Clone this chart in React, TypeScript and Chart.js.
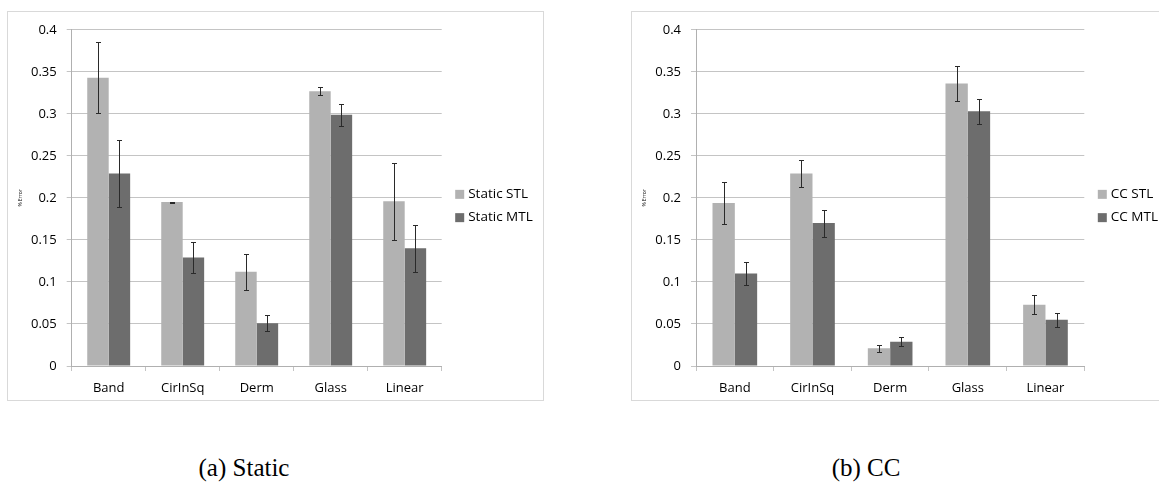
import React, { useEffect, useRef } from 'react';
import { Chart, registerables } from 'chart.js';

Chart.register(...registerables);

const categories = ['Band', 'CirInSq', 'Derm', 'Glass', 'Linear'];

const staticSTL = [0.343, 0.195, 0.112, 0.327, 0.196];
const staticSTLErr = [0.042, 0.0005, 0.021, 0.0047, 0.046];
const staticMTL = [0.229, 0.129, 0.051, 0.299, 0.14];
const staticMTLErr = [0.04, 0.018, 0.0095, 0.0133, 0.028];

const ccSTL = [0.194, 0.229, 0.021, 0.336, 0.073];
const ccSTLErr = [0.025, 0.016, 0.004, 0.021, 0.0117];
const ccMTL = [0.11, 0.17, 0.029, 0.303, 0.055];
const ccMTLErr = [0.014, 0.016, 0.005, 0.0145, 0.0082];

const yTickLabels = ['0', '0.05', '0.1', '0.15', '0.2', '0.25', '0.3', '0.35', '0.4'];

const FONT = "'Open Sans', sans-serif";
const LIGHT = '#b2b2b2';
const DARK = '#6d6d6d';
const GRID = '#c4c4c4';
const AXIS = '#b0b0b0';

function errorPlugin(errs: number[][]) {
  return {
    id: 'errorBars',
    afterDatasetsDraw(chart: any) {
      const ctx = chart.ctx;
      const y = chart.scales.y;
      ctx.save();
      ctx.strokeStyle = '#2a2a2a';
      ctx.lineWidth = 1;
      chart.data.datasets.forEach((ds: any, di: number) => {
        const meta = chart.getDatasetMeta(di);
        meta.data.forEach((bar: any, i: number) => {
          const v = ds.data[i];
          const e = errs[di][i];
          const x = Math.round(bar.x) + 0.5;
          const t = Math.round(y.getPixelForValue(v + e)) + 0.5;
          const b = Math.round(y.getPixelForValue(v - e)) + 0.5;
          ctx.beginPath();
          ctx.moveTo(x, t);
          ctx.lineTo(x, b);
          ctx.moveTo(x - 2.5, t);
          ctx.lineTo(x + 2.5, t);
          ctx.moveTo(x - 2.5, b);
          ctx.lineTo(x + 2.5, b);
          ctx.stroke();
        });
      });
      ctx.restore();
    },
  };
}

function sideLegendPlugin(offset: number) {
  return {
    id: 'sideLegend',
    afterDraw(chart: any) {
      const { ctx, chartArea, height } = chart;
      const x0 = chartArea.right + offset;
      const step = 23.3;
      const n = chart.data.datasets.length;
      const cy = height / 2;
      ctx.save();
      chart.data.datasets.forEach((ds: any, i: number) => {
        const yc = cy + (i - (n - 1) / 2) * step;
        ctx.fillStyle = ds.backgroundColor;
        ctx.fillRect(x0, yc - 4.5, 9, 9);
        ctx.fillStyle = '#000';
        ctx.font = `13.5px ${FONT}`;
        ctx.textBaseline = 'middle';
        ctx.textAlign = 'left';
        ctx.fillText(ds.label, x0 + 13, yc);
      });
      ctx.restore();
    },
  };
}

type PanelProps = {
  left: number;
  boxWidth: number;
  canvasWidth: number;
  yWidth: number;
  plotRight: number;
  labels: string[];
  stl: number[];
  stlErr: number[];
  mtl: number[];
  mtlErr: number[];
  stlLabel: string;
  mtlLabel: string;
  catPct: number;
};

function Panel(p: PanelProps) {
  const ref = useRef<HTMLCanvasElement>(null);
  useEffect(() => {
    if (!ref.current) return;
    const canvasHeight = 388;
    const chart = new Chart(ref.current, {
      type: 'bar',
      data: {
        labels: p.labels,
        datasets: [
          {
            label: p.stlLabel,
            data: p.stl,
            backgroundColor: LIGHT,
            borderWidth: 0,
            categoryPercentage: p.catPct,
            barPercentage: 1,
          },
          {
            label: p.mtlLabel,
            data: p.mtl,
            backgroundColor: DARK,
            borderWidth: 0,
            categoryPercentage: p.catPct,
            barPercentage: 1,
          },
        ],
      },
      options: {
        responsive: false,
        animation: false,
        layout: { padding: { top: 12, left: 0, bottom: 0, right: p.canvasWidth - p.plotRight } },
        plugins: { legend: { display: false }, tooltip: { enabled: false } },
        scales: {
          x: {
            grid: { offset: true, drawOnChartArea: false, drawTicks: true, tickLength: 5, color: GRID },
            border: { color: AXIS },
            ticks: { font: { family: FONT, size: 13 }, color: '#000', padding: 9, maxRotation: 0 },
            afterFit: (s: any) => {
              s.height = canvasHeight - 354;
            },
          },
          y: {
            min: 0,
            max: 0.4,
            ticks: {
              stepSize: 0.05,
              callback: (_v: any, i: number) => yTickLabels[i],
              padding: 10,
              font: { family: FONT, size: 13 },
              color: '#000',
            },
            grid: { color: GRID, tickLength: 5 },
            border: { color: AXIS },
            title: {
              display: true,
              text: '% Error',
              font: { family: FONT, size: 5 },
              color: '#000',
              padding: { top: 10, bottom: 0 },
            },
            afterFit: (s: any) => {
              s.width = p.yWidth;
            },
          },
        },
      },
      plugins: [errorPlugin([p.stlErr, p.mtlErr]), sideLegendPlugin(13.5)],
    } as any);
    return () => chart.destroy();
  }, []);
  return (
    <div
      style={{
        position: 'absolute',
        left: p.left,
        top: 11,
        width: p.boxWidth,
        height: 390,
        border: '1px solid #d9d9d9',
        boxSizing: 'border-box',
        background: '#fff',
      }}
    >
      <canvas ref={ref} width={p.canvasWidth} height={388} style={{ display: 'block' }} />
    </div>
  );
}

export default function App() {
  const caption: React.CSSProperties = {
    position: 'absolute',
    top: 453,
    width: 300,
    textAlign: 'center',
    fontFamily: "'Liberation Serif', 'Times New Roman', serif",
    fontSize: 25,
    lineHeight: '30px',
    color: '#000',
  };
  return (
    <div
      style={{
        position: 'absolute',
        left: 0,
        top: 0,
        width: 1159,
        height: 489,
        overflow: 'hidden',
        background: '#fff',
      }}
    >
      <Panel
        left={7}
        boxWidth={537}
        canvasWidth={535}
        yWidth={63.7}
        plotRight={433.7}
        labels={categories}
        stl={staticSTL}
        stlErr={staticSTLErr}
        mtl={staticMTL}
        mtlErr={staticMTLErr}
        stlLabel="Static STL"
        mtlLabel="Static MTL"
        catPct={0.58}
      />
      <Panel
        left={631}
        boxWidth={540}
        canvasWidth={538}
        yWidth={64}
        plotRight={452.3}
        labels={categories}
        stl={ccSTL}
        stlErr={ccSTLErr}
        mtl={ccMTL}
        mtlErr={ccMTLErr}
        stlLabel="CC STL"
        mtlLabel="CC MTL"
        catPct={0.575}
      />
      <div style={{ ...caption, left: 94 }}>(a) Static</div>
      <div style={{ ...caption, left: 716 }}>(b) CC</div>
    </div>
  );
}
